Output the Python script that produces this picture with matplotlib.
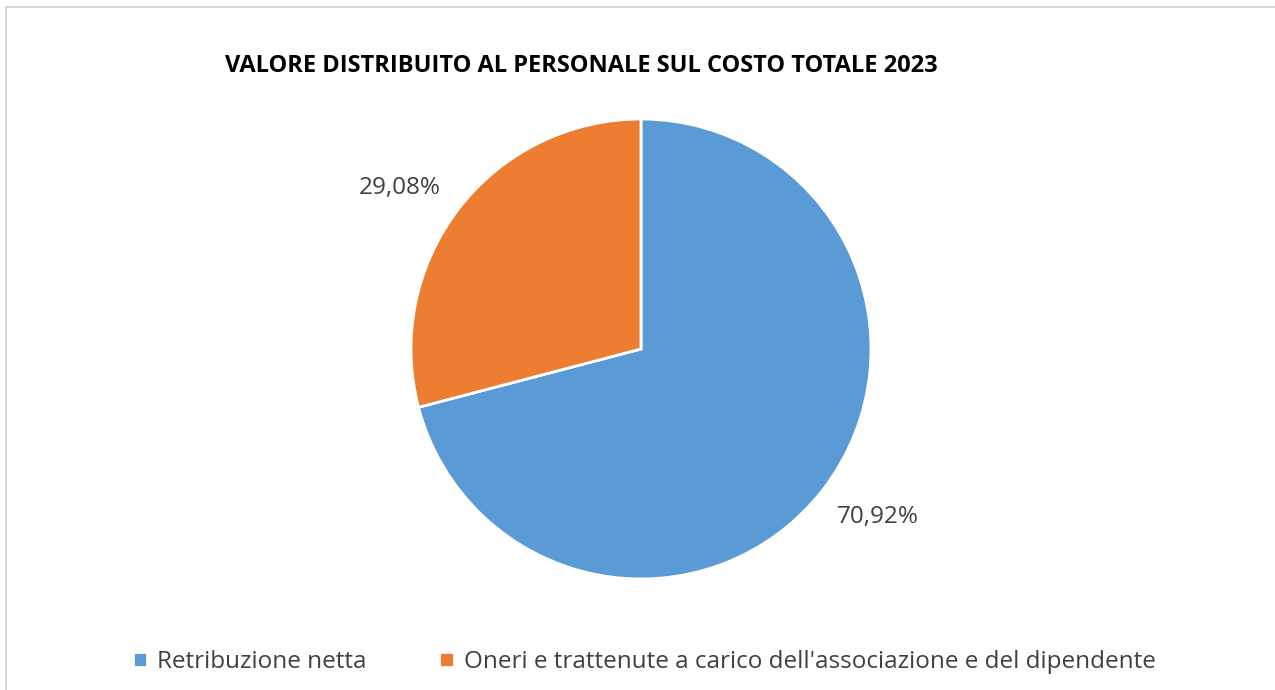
import matplotlib.pyplot as plt
from matplotlib.patches import Rectangle

# dati
categorie = ['Retribuzione netta',
             "Oneri e trattenute a carico dell'associazione e del dipendente"]
valori = [70.92, 29.08]
colori = ['#5B9BD5', '#ED7D31']
titolo = 'VALORE DISTRIBUITO AL PERSONALE SUL COSTO TOTALE 2023'

plt.rcParams['font.family'] = ['Open Sans', 'DejaVu Sans']

W, H = 1275, 690
fig = plt.figure(figsize=(W / 100, H / 100), dpi=100)

# cornice grigia (visibile solo sopra e a sinistra)
fig.patches.append(Rectangle((6 / W, -0.1), 1.2, 1 - 7 / H + 0.1,
                             transform=fig.transFigure, fill=False,
                             edgecolor='#D9D9D9', linewidth=1.5))

# torta: centro (641, 349), raggio 230 px
cx, cy, r = 641, 349, 230
ax = fig.add_axes([(cx - r) / W, (H - cy - r) / H, 2 * r / W, 2 * r / H])
wedges, texts, autotexts = ax.pie(
    valori, colors=colori, startangle=90, counterclock=False,
    autopct=lambda p: f'{p:.2f}%'.replace('.', ','), pctdistance=1.26,
    wedgeprops=dict(edgecolor='white', linewidth=2),
    textprops=dict(color='#404040', fontsize=17.5))
ax.set_xlim(-1, 1)
ax.set_ylim(-1, 1)
ax.set_aspect('equal')

# posizione etichette (stile Excel "adatta")
pos_etichette = [(1.03, -0.73), (-1.05, 0.70)]
for t, p in zip(autotexts, pos_etichette):
    t.set_position(p)

fig.text(225 / W, 1 - 66 / H, titolo, fontsize=17, fontweight='bold',
         color='black', ha='left', va='center')

fig.legend(wedges, categorie, loc='center', bbox_to_anchor=(644 / W, 1 - 662 / H),
           ncol=2, frameon=False, fontsize=17.5, labelcolor='#404040',
           handlelength=0.6, handleheight=0.6, handletextpad=0.4,
           columnspacing=3.0)

fig.savefig('out.png', dpi=100)
